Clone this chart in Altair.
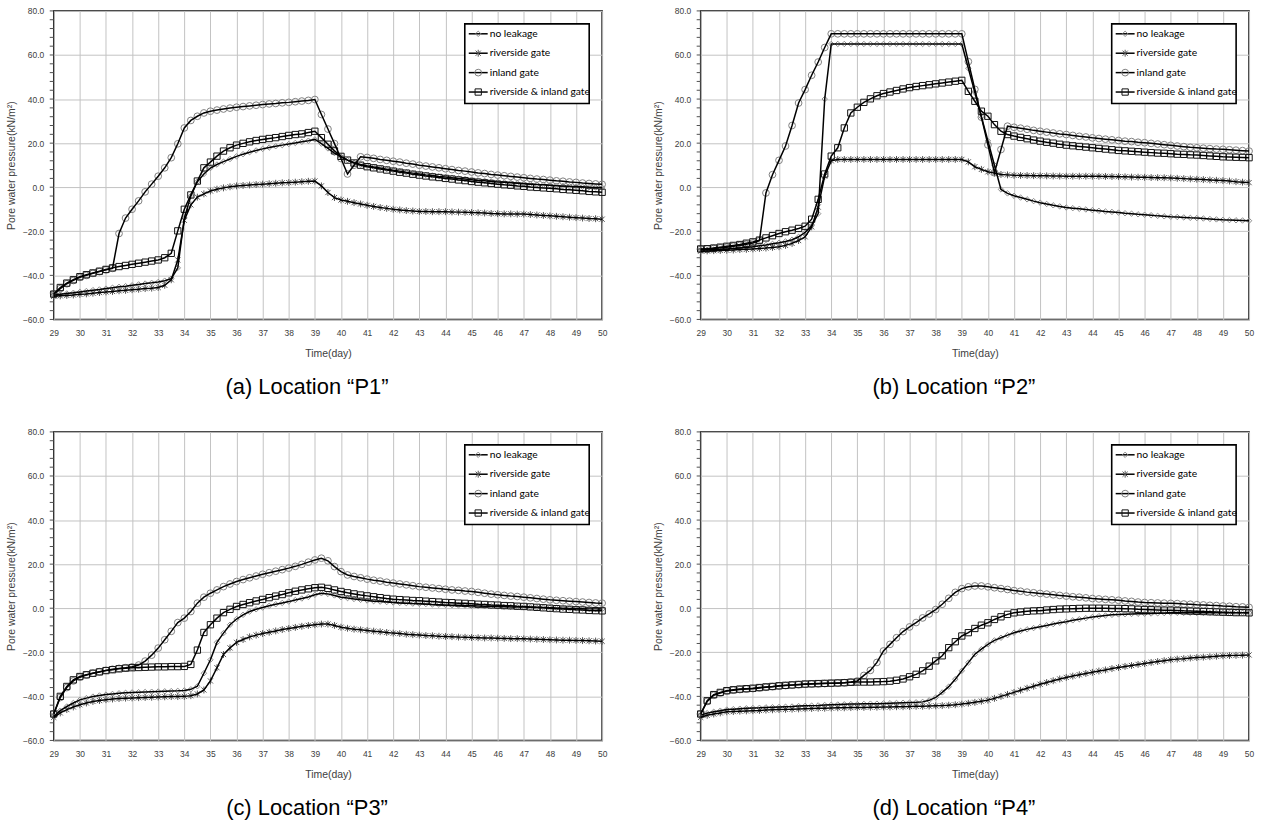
import altair as alt
import pandas as pd

# ---------------------------------------------------------------------------
# Pore water pressure (kN/m2) sampled every 0.25 day from day 29 to day 50
# ---------------------------------------------------------------------------
SERIES = ["no leakage", "riverside gate", "inland gate", "riverside & inland gate"]
DAYS = [29 + 0.25 * i for i in range(85)]

CAPTIONS = ["(a) Location \u201cP1\u201d", "(b) Location \u201cP2\u201d",
            "(c) Location \u201cP3\u201d", "(d) Location \u201cP4\u201d"]

# ---- P1 ----
P1_NO_LEAK = [
    -49.0, -48.6, -48.2, -47.9, -47.5, -47.1, -46.7, -46.4,
    -46.0, -45.6, -45.2, -44.9, -44.5, -44.1, -43.7, -43.4,
    -43.0, -42.4, -41.5, -36.6, -14.0, -4.0, 2.5, 6.0,
    8.7, 10.3, 11.6, 12.8, 14.0, 15.0, 15.9, 16.7,
    17.4, 18.0, 18.6, 19.1, 19.6, 20.1, 20.6, 21.1,
    21.7, 19.8, 17.6, 15.5, 13.8, 12.3, 11.1, 10.3,
    9.7, 9.2, 8.7, 8.2, 7.7, 7.3, 6.8, 6.4,
    6.0, 5.6, 5.3, 4.9, 4.6, 4.3, 4.0, 3.7,
    3.4, 3.1, 2.9, 2.6, 2.4, 2.2, 2.0, 1.8,
    1.6, 1.4, 1.2, 1.1, 0.9, 0.7, 0.6, 0.4,
    0.3, 0.2, 0.0, -0.1, -0.2]
P1_RIVER = [
    -49.5, -49.3, -49.1, -48.9, -48.6, -48.4, -48.1, -47.8,
    -47.5, -47.3, -47.0, -46.8, -46.5, -46.3, -46.0, -45.8,
    -45.5, -44.5, -42.0, -33.0, -15.0, -8.0, -4.5, -3.0,
    -1.7, -0.9, -0.3, 0.2, 0.6, 0.8, 1.0, 1.2,
    1.4, 1.6, 1.8, 2.0, 2.1, 2.3, 2.5, 2.7,
    2.8, 0.6, -2.4, -4.7, -5.8, -6.4, -7.0, -7.6,
    -8.2, -8.7, -9.2, -9.6, -10.0, -10.3, -10.6, -10.8,
    -11.0, -11.0, -11.1, -11.1, -11.1, -11.2, -11.3, -11.4,
    -11.5, -11.6, -11.7, -11.9, -12.0, -12.1, -12.1, -12.2,
    -12.2, -12.4, -12.6, -12.8, -13.0, -13.2, -13.4, -13.6,
    -13.8, -14.0, -14.2, -14.3, -14.5]
P1_INLAND = [
    -48.5, -46.0, -43.8, -42.3, -40.9, -40.0, -39.1, -38.3,
    -37.5, -36.8, -21.0, -14.0, -10.0, -6.2, -2.1, 1.4,
    5.0, 8.8, 13.4, 19.7, 26.9, 30.3, 32.2, 33.7,
    34.5, 35.0, 35.5, 35.9, 36.3, 36.6, 36.9, 37.2,
    37.5, 37.8, 38.0, 38.3, 38.5, 38.8, 39.1, 39.4,
    39.8, 33.0, 26.4, 19.8, 13.0, 6.0, 10.0, 13.8,
    13.5, 13.1, 12.6, 12.2, 11.8, 11.4, 10.9, 10.5,
    10.0, 9.6, 9.2, 8.8, 8.4, 8.0, 7.6, 7.3,
    6.9, 6.5, 6.2, 5.8, 5.5, 5.2, 4.9, 4.6,
    4.3, 4.0, 3.7, 3.5, 3.2, 2.9, 2.7, 2.4,
    2.2, 1.9, 1.7, 1.5, 1.3]
P1_BOTH = [
    -48.5, -45.5, -43.5, -42.0, -40.6, -39.7, -38.9, -38.1,
    -37.3, -36.6, -36.0, -35.5, -35.0, -34.5, -34.0, -33.5,
    -33.0, -32.0, -30.0, -19.8, -10.0, -3.5, 2.8, 8.8,
    11.4, 14.1, 16.4, 17.9, 19.1, 19.9, 20.6, 21.2,
    21.7, 22.1, 22.5, 23.0, 23.5, 23.9, 24.2, 24.8,
    25.4, 22.5, 19.5, 16.5, 14.0, 12.3, 11.0, 10.0,
    9.3, 8.8, 8.3, 7.8, 7.3, 6.8, 6.4, 5.9,
    5.5, 5.1, 4.7, 4.4, 4.0, 3.7, 3.3, 3.0,
    2.6, 2.3, 2.0, 1.7, 1.4, 1.1, 0.9, 0.6,
    0.4, 0.1, -0.1, -0.3, -0.5, -0.7, -1.0, -1.2,
    -1.4, -1.6, -1.9, -2.1, -2.3]

# ---- P2 ----
P2_NO_LEAK = [
    -28.5, -28.4, -28.3, -28.2, -28.0, -27.8, -27.6, -27.3,
    -27.0, -26.6, -26.2, -25.7, -25.2, -24.6, -23.8, -22.5,
    -20.5, -17.5, -12.0, 40.0, 65.0, 65.0, 65.0, 65.0,
    65.0, 65.0, 65.0, 65.0, 65.0, 65.0, 65.0, 65.0,
    65.0, 65.0, 65.0, 65.0, 65.0, 65.0, 65.0, 65.0,
    65.0, 54.0, 43.0, 32.0, 21.0, 10.0, -1.0, -2.8,
    -3.9, -4.7, -5.5, -6.3, -7.0, -7.6, -8.2, -8.7,
    -9.2, -9.5, -9.8, -10.1, -10.4, -10.7, -11.0, -11.2,
    -11.5, -11.8, -12.0, -12.3, -12.5, -12.7, -13.0, -13.2,
    -13.4, -13.5, -13.7, -13.9, -14.0, -14.2, -14.4, -14.6,
    -14.8, -14.9, -15.0, -15.1, -15.2]
P2_RIVER = [
    -29.0, -28.9, -28.8, -28.7, -28.6, -28.5, -28.3, -28.2,
    -28.0, -27.8, -27.6, -27.3, -27.0, -26.4, -25.5, -24.2,
    -22.5, -18.0, -9.0, 5.0, 12.0, 12.6, 12.6, 12.6,
    12.6, 12.6, 12.6, 12.6, 12.6, 12.6, 12.6, 12.6,
    12.6, 12.6, 12.6, 12.6, 12.6, 12.6, 12.6, 12.6,
    12.6, 11.5, 9.3, 8.1, 7.0, 6.4, 5.8, 5.6,
    5.4, 5.35, 5.3, 5.25, 5.2, 5.15, 5.1, 5.05,
    5.0, 5.0, 5.0, 5.0, 5.0, 4.95, 4.9, 4.85,
    4.8, 4.7, 4.6, 4.55, 4.5, 4.4, 4.35, 4.3,
    4.2, 4.05, 3.9, 3.75, 3.6, 3.45, 3.3, 3.15,
    3.0, 2.8, 2.5, 2.3, 2.1]
P2_INLAND = [
    -28.2, -28.0, -27.8, -27.5, -27.2, -26.8, -26.4, -25.9,
    -25.3, -24.3, -2.6, 5.7, 12.2, 18.7, 28.0, 38.2,
    44.3, 50.8, 56.8, 63.4, 69.6, 69.6, 69.6, 69.6,
    69.6, 69.6, 69.6, 69.6, 69.6, 69.6, 69.6, 69.6,
    69.6, 69.6, 69.6, 69.6, 69.6, 69.6, 69.6, 69.6,
    69.6, 57.0, 44.4, 31.8, 19.2, 6.6, 17.1, 27.7,
    27.2, 26.8, 26.3, 25.8, 25.4, 25.0, 24.6, 24.2,
    23.9, 23.5, 23.1, 22.8, 22.4, 22.1, 21.8, 21.5,
    21.2, 20.9, 20.7, 20.4, 20.2, 19.9, 19.6, 19.3,
    19.0, 18.7, 18.4, 18.1, 17.9, 17.7, 17.5, 17.3,
    17.2, 17.0, 16.8, 16.6, 16.4]
P2_BOTH = [
    -28.0, -27.9, -27.6, -27.2, -26.8, -26.4, -26.0, -25.4,
    -24.8, -24.0, -23.0, -22.0, -21.0, -20.2, -19.5, -18.7,
    -17.7, -14.5, -5.5, 6.0, 14.1, 17.9, 26.9, 33.7,
    36.3, 38.5, 40.1, 41.5, 42.5, 43.2, 43.9, 44.6,
    45.2, 45.7, 46.1, 46.5, 46.9, 47.3, 47.7, 48.1,
    48.5, 43.5, 39.0, 34.5, 32.2, 28.4, 25.4, 23.9,
    23.2, 22.6, 22.0, 21.4, 20.9, 20.4, 20.0, 19.5,
    19.1, 18.8, 18.5, 18.2, 17.9, 17.6, 17.3, 17.0,
    16.7, 16.5, 16.3, 16.1, 15.9, 15.7, 15.5, 15.4,
    15.2, 15.0, 14.9, 14.7, 14.6, 14.4, 14.2, 14.0,
    13.8, 13.7, 13.6, 13.5, 13.4]

# ---- P3 ----
P3_NO_LEAK = [
    -49.0, -46.5, -44.6, -43.0, -41.6, -40.8, -40.1, -39.6,
    -39.2, -38.9, -38.6, -38.4, -38.2, -38.1, -38.0, -37.9,
    -37.8, -37.7, -37.6, -37.5, -37.3, -36.8, -35.4, -29.5,
    -23.4, -15.5, -11.3, -7.5, -4.9, -3.0, -1.5, -0.5,
    0.3, 1.1, 1.8, 2.4, 3.0, 3.7, 4.4, 5.1,
    6.1, 6.8, 6.5, 5.8, 5.0, 4.6, 4.2, 3.8,
    3.5, 3.2, 3.0, 2.8, 2.6, 2.4, 2.3, 2.1,
    2.0, 1.9, 1.7, 1.6, 1.5, 1.4, 1.3, 1.2,
    1.1, 1.0, 0.9, 0.9, 0.8, 0.7, 0.6, 0.6,
    0.5, 0.4, 0.3, 0.3, 0.2, 0.1, 0.0, -0.1,
    -0.1, -0.2, -0.3, -0.3, -0.4]
P3_RIVER = [
    -49.5, -47.5, -46.0, -44.8, -43.8, -43.0, -42.3, -41.9,
    -41.5, -41.2, -41.0, -40.8, -40.7, -40.6, -40.5, -40.4,
    -40.3, -40.2, -40.1, -40.1, -40.0, -39.7, -38.9, -37.1,
    -33.0, -27.0, -21.0, -18.0, -15.5, -14.2, -13.0, -12.2,
    -11.5, -10.9, -10.3, -9.7, -9.2, -8.7, -8.2, -7.8,
    -7.5, -7.2, -7.2, -7.8, -8.6, -9.1, -9.5, -9.8,
    -10.1, -10.4, -10.7, -11.0, -11.3, -11.5, -11.8, -12.0,
    -12.2, -12.4, -12.5, -12.7, -12.8, -12.9, -13.1, -13.2,
    -13.3, -13.4, -13.5, -13.5, -13.6, -13.7, -13.8, -13.8,
    -13.9, -14.0, -14.1, -14.2, -14.3, -14.4, -14.5, -14.5,
    -14.6, -14.7, -14.8, -14.9, -15.0]
P3_INLAND = [
    -48.0, -40.5, -36.0, -33.0, -31.3, -30.3, -29.5, -28.8,
    -28.2, -27.7, -27.3, -27.0, -26.6, -25.8, -24.0, -21.3,
    -18.1, -14.3, -10.5, -6.5, -4.5, -1.5, 2.3, 5.0,
    6.8, 8.3, 9.8, 11.0, 12.1, 13.0, 13.8, 14.6,
    15.4, 16.1, 16.8, 17.5, 18.2, 19.0, 19.9, 20.9,
    21.9, 22.7, 21.5, 18.9, 16.6, 15.1, 14.4, 13.8,
    13.2, 12.7, 12.3, 11.8, 11.4, 11.0, 10.6, 10.2,
    9.8, 9.5, 9.2, 8.9, 8.6, 8.3, 8.1, 7.8,
    7.6, 7.2, 6.8, 6.4, 6.1, 5.8, 5.5, 5.3,
    5.0, 4.7, 4.4, 4.1, 3.8, 3.6, 3.4, 3.2,
    3.0, 2.8, 2.6, 2.4, 2.3]
P3_BOTH = [
    -48.0, -40.0, -35.5, -32.5, -31.0, -30.2, -29.5, -28.9,
    -28.3, -27.9, -27.5, -27.2, -27.0, -26.9, -26.8, -26.7,
    -26.6, -26.6, -26.5, -26.5, -26.4, -25.5, -19.0, -11.0,
    -7.5, -4.5, -2.0, -0.5, 0.8, 1.7, 2.5, 3.3,
    4.0, 4.8, 5.5, 6.2, 7.0, 7.7, 8.3, 8.8,
    9.3, 9.5, 9.0, 8.3, 7.6, 7.0, 6.5, 6.0,
    5.6, 5.2, 4.8, 4.4, 4.1, 3.9, 3.7, 3.5,
    3.4, 3.2, 3.0, 2.8, 2.6, 2.5, 2.3, 2.2,
    2.0, 1.8, 1.7, 1.5, 1.4, 1.2, 1.1, 0.9,
    0.8, 0.6, 0.4, 0.2, 0.0, -0.2, -0.4, -0.5,
    -0.7, -0.8, -1.0, -1.1, -1.2]

# ---- P4 ----
P4_NO_LEAK = [
    -48.5, -47.6, -47.0, -46.5, -46.0, -45.8, -45.6, -45.4,
    -45.3, -45.2, -45.0, -44.9, -44.8, -44.7, -44.6, -44.4,
    -44.3, -44.2, -44.1, -43.9, -43.8, -43.7, -43.6, -43.5,
    -43.5, -43.4, -43.3, -43.3, -43.2, -43.1, -43.0, -42.9,
    -42.8, -42.7, -42.5, -41.8, -40.5, -38.2, -35.6, -32.2,
    -28.4, -24.7, -20.9, -18.6, -16.4, -14.6, -13.4, -12.2,
    -11.1, -10.3, -9.6, -9.0, -8.4, -7.8, -7.2, -6.6,
    -6.1, -5.5, -5.0, -4.5, -4.0, -3.6, -3.3, -3.0,
    -2.8, -2.7, -2.6, -2.5, -2.5, -2.4, -2.3, -2.2,
    -2.1, -2.1, -2.1, -2.1, -2.1, -2.1, -2.1, -2.1,
    -2.1, -2.1, -2.1, -2.1, -2.1]
P4_RIVER = [
    -49.5, -48.6, -48.0, -47.5, -47.0, -46.9, -46.7, -46.6,
    -46.5, -46.4, -46.2, -46.1, -46.0, -45.9, -45.8, -45.7,
    -45.6, -45.5, -45.4, -45.4, -45.3, -45.2, -45.2, -45.1,
    -45.0, -45.0, -44.9, -44.9, -44.8, -44.8, -44.7, -44.7,
    -44.6, -44.5, -44.5, -44.4, -44.3, -44.2, -44.0, -43.8,
    -43.5, -43.1, -42.7, -42.2, -41.7, -40.9, -40.0, -39.1,
    -38.2, -37.2, -36.3, -35.4, -34.5, -33.7, -32.9, -32.1,
    -31.4, -30.8, -30.2, -29.6, -29.1, -28.5, -28.0, -27.4,
    -26.9, -26.4, -26.0, -25.5, -25.1, -24.6, -24.2, -23.8,
    -23.4, -23.1, -22.9, -22.6, -22.4, -22.2, -22.0, -21.8,
    -21.6, -21.5, -21.4, -21.3, -21.2]
P4_INLAND = [
    -48.0, -42.3, -39.5, -38.5, -37.6, -37.2, -36.9, -36.7,
    -36.5, -36.2, -35.9, -35.6, -35.3, -35.1, -34.9, -34.7,
    -34.5, -34.4, -34.3, -34.2, -34.1, -34.0, -33.8, -33.5,
    -33.0, -30.5, -28.2, -24.6, -19.4, -16.4, -13.4, -10.6,
    -8.5, -6.5, -4.4, -2.6, -0.6, 1.8, 4.5, 7.2,
    8.9, 9.7, 10.1, 10.1, 9.7, 9.3, 8.9, 8.5,
    8.0, 7.7, 7.3, 7.0, 6.7, 6.4, 6.1, 5.8,
    5.5, 5.2, 5.0, 4.7, 4.4, 4.2, 4.0, 3.8,
    3.6, 3.3, 3.1, 2.8, 2.6, 2.5, 2.4, 2.3,
    2.2, 2.1, 1.9, 1.8, 1.6, 1.5, 1.3, 1.2,
    1.0, 0.9, 0.7, 0.6, 0.4]
P4_BOTH = [
    -48.0, -42.0, -39.2, -38.2, -37.4, -37.0, -36.7, -36.5,
    -36.3, -36.0, -35.7, -35.5, -35.2, -35.0, -34.8, -34.6,
    -34.4, -34.3, -34.2, -34.1, -34.0, -33.9, -33.8, -33.6,
    -33.5, -33.5, -33.5, -33.4, -33.3, -33.1, -32.7, -32.1,
    -31.1, -30.0, -28.4, -26.3, -23.9, -21.6, -17.9, -15.2,
    -12.6, -11.1, -9.2, -7.7, -6.6, -5.1, -3.9, -2.8,
    -2.1, -1.7, -1.4, -1.2, -1.1, -0.8, -0.6, -0.4,
    -0.3, -0.2, -0.1, 0.0, 0.0, 0.0, 0.0, -0.1,
    -0.1, -0.2, -0.3, -0.5, -0.6, -0.7, -0.8, -0.9,
    -0.9, -1.0, -1.2, -1.3, -1.4, -1.5, -1.6, -1.7,
    -1.8, -1.9, -2.0, -2.0, -2.1]

PANEL_DATA = [
    [P1_NO_LEAK, P1_RIVER, P1_INLAND, P1_BOTH],
    [P2_NO_LEAK, P2_RIVER, P2_INLAND, P2_BOTH],
    [P3_NO_LEAK, P3_RIVER, P3_INLAND, P3_BOTH],
    [P4_NO_LEAK, P4_RIVER, P4_INLAND, P4_BOTH],
]

# axis ticks / grid positions
Y_MAJOR = [-60, -40, -20, 0, 20, 40, 60, 80]
Y_MINOR = list(range(-60, 81, 4))
X_GRID = [29 + 0.5 * i for i in range(43)]

# ---------------------------------------------------------------------------
# styling
# ---------------------------------------------------------------------------
ASTERISK = "M-0.75,-0.75L0.75,0.75M-0.75,0.75L0.75,-0.75M0,-1L0,1"
MARK_SHAPES = ["diamond", ASTERISK, "circle", "square"]
MARK_COLORS = ["#8c8c8c", "#555555", "#808080", "#111111"]
MARK_SIZES = [30, 48, 46, 40]

W, H = 551, 310
FONT = "Liberation Sans"
LEG_FONT = "Lato"

# legend box (pixels inside each plot area)
LEG_X0, LEG_X1 = 413, 538
LEG_Y0, LEG_Y1 = 13, 93
LEG_ROW0, LEG_STEP = 10, 19.5
LEG_LINE0, LEG_LINE1, LEG_TEXT = 417, 436, 438


def panel(caption, values):
    frames = []
    for name, vals in zip(SERIES, values):
        assert len(vals) == len(DAYS), name
        frames.append(pd.DataFrame({"day": DAYS, "value": vals, "series": name}))
    df = pd.concat(frames, ignore_index=True)

    x = alt.X(
        "day:Q",
        scale=alt.Scale(domain=[29, 50], nice=False, zero=False),
        axis=alt.Axis(
            values=X_GRID, format="d",
            labelExpr="datum.value % 1 === 0 ? datum.label : ''",
            title="Time(day)", ticks=False, domain=False,
            labelFlush=False, labelOverlap=False,
            labelPadding=9, titlePadding=12,
        ),
    )
    y = alt.Y(
        "value:Q",
        scale=alt.Scale(domain=[-60, 80], nice=False, zero=False),
        axis=alt.Axis(
            values=Y_MAJOR, format=".1f",
            title="Pore water pressure(kN/m\u00b2)",
            ticks=False, domain=False, labelPadding=10, titlePadding=6,
        ),
    )

    layers = []
    # markers of each series
    for name, shape, col, size in zip(SERIES, MARK_SHAPES, MARK_COLORS, MARK_SIZES):
        layers.append(
            alt.Chart(df[df["series"] == name])
            .mark_point(shape=shape, color=col, size=size, filled=False,
                        strokeWidth=1, opacity=1)
            .encode(x=x, y=y)
        )
    # connecting lines
    layers.append(
        alt.Chart(df).mark_line(color="black", strokeWidth=1.5)
        .encode(x=x, y=y, detail="series:N")
    )
    # minor ticks on the value axis
    layers.append(
        alt.Chart(pd.DataFrame({"value": Y_MINOR}))
        .mark_rule(color="#505050", strokeWidth=1)
        .encode(y=y, x=alt.value(-4), x2=alt.value(0))
    )

    # legend
    one = pd.DataFrame({"k": [0]})
    layers.append(
        alt.Chart(one).mark_rect(fill="white", stroke="black", strokeWidth=1.6)
        .encode(x=alt.value(LEG_X0), x2=alt.value(LEG_X1),
                y=alt.value(LEG_Y0), y2=alt.value(LEG_Y1))
    )
    for i, (name, shape, col, size) in enumerate(
            zip(SERIES, MARK_SHAPES, MARK_COLORS, MARK_SIZES)):
        py = LEG_Y0 + LEG_ROW0 + i * LEG_STEP
        layers.append(
            alt.Chart(one).mark_rule(color="black", strokeWidth=1.5)
            .encode(x=alt.value(LEG_LINE0), x2=alt.value(LEG_LINE1), y=alt.value(py))
        )
        layers.append(
            alt.Chart(one).mark_point(shape=shape, color=col, size=size,
                                      filled=False, strokeWidth=1, opacity=1)
            .encode(x=alt.value((LEG_LINE0 + LEG_LINE1) / 2), y=alt.value(py))
        )
        layers.append(
            alt.Chart(one).mark_text(text=name, align="left", baseline="middle",
                                     font=LEG_FONT, fontSize=10.3, color="black")
            .encode(x=alt.value(LEG_TEXT), y=alt.value(py))
        )

    return alt.layer(*layers).properties(
        width=W, height=H,
        title=alt.TitleParams(
            text=caption, orient="bottom", anchor="middle", frame="bounds",
            font=FONT, fontSize=22, fontWeight="normal", color="black", offset=18,
        ),
    )


panels = [panel(c, v) for c, v in zip(CAPTIONS, PANEL_DATA)]

chart = (
    alt.vconcat(
        alt.hconcat(panels[0], panels[1], spacing=43),
        alt.hconcat(panels[2], panels[3], spacing=43),
        spacing=28,
    )
    .properties(padding={"left": 5, "top": 4, "right": 5, "bottom": 5},
                background="white")
    .configure_view(stroke="black", strokeWidth=1.5)
    .configure_axis(
        labelFont=FONT, labelFontSize=8.5, labelColor="#404040",
        titleFont=FONT, titleFontSize=10.5, titleFontWeight="normal",
        titleColor="#404040", gridColor="#c3c3c3", gridWidth=1, gridOpacity=1,
    )
)

chart.save("out.html", embed_options={"renderer": "svg", "actions": False})
